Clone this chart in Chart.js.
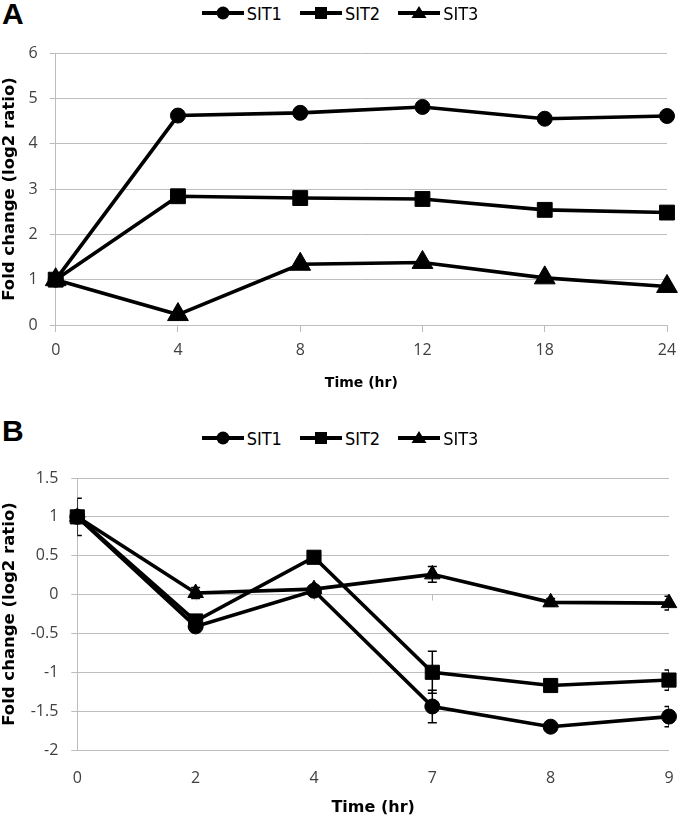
<!DOCTYPE html>
<html><head><meta charset="utf-8">
<script src="https://cdn.jsdelivr.net/npm/chart.js@4.4.1/dist/chart.umd.min.js"></script>
<style>
html,body{margin:0;padding:0;background:#fff}
body{width:680px;height:817px;position:relative;overflow:hidden}
.panel{position:absolute;left:0}
.lbl{position:absolute;left:2px;font:bold 30px 'Liberation Sans',Arial,sans-serif;line-height:30px;color:#000}
.legend{position:absolute;left:0;width:680px;display:flex;justify-content:center;align-items:center;height:20px;
  font:18px 'Liberation Sans Narrow','DejaVu Sans Condensed',sans-serif;color:#000}
.legend .item{display:flex;align-items:center;margin:0 9px}
.legend canvas{display:block;margin-right:3px}
</style></head>
<body>
<div class="lbl" style="top:-1px">A</div>
<div class="legend" id="legA" style="top:3px"></div>
<canvas id="chartA" class="panel" style="top:0" width="680" height="400"></canvas>
<div class="lbl" style="top:416px">B</div>
<div class="legend" id="legB" style="top:428px"></div>
<canvas id="chartB" class="panel" style="top:400px" width="680" height="417"></canvas>
<script>
// ---------- data ----------
const seriesNames = ['SIT1', 'SIT2', 'SIT3'];
const markerStyles = ['circle', 'rect', 'triangle'];

const timeA = ['0', '4', '8', '12', '18', '24'];
const sit1A = [1, 4.62, 4.68, 4.81, 4.55, 4.61];
const sit2A = [1, 2.84, 2.80, 2.78, 2.54, 2.48];
const sit3A = [1, 0.23, 1.34, 1.38, 1.04, 0.85];
const yTicksA = [0, 1, 2, 3, 4, 5, 6];

const timeB = ['0', '2', '4', '7', '8', '9'];
const sit1B = [1, -0.41, 0.05, -1.44, -1.70, -1.57];
const sit2B = [1, -0.34, 0.48, -1.00, -1.17, -1.10];
const sit3B = [1, 0.02, 0.07, 0.26, -0.10, -0.11];
const sit1ErrB = [0, 0.03, 0.06, 0.21, 0.03, 0.13];
const sit2ErrB = [0.24, 0.04, 0.03, 0.27, 0.03, 0.13];
const sit3ErrB = [0, 0.07, 0.04, 0.10, 0.05, 0.09];
const yTicksB = [-2, -1.5, -1, -0.5, 0, 0.5, 1, 1.5];

const yTitle = 'Fold change (log2 ratio)';
const xTitle = 'Time (hr)';

// ---------- legends (HTML) ----------
function drawIcon(c, style) {
  const ctx = c.getContext('2d');
  ctx.strokeStyle = '#000'; ctx.fillStyle = '#000'; ctx.lineWidth = 4;
  ctx.beginPath(); ctx.moveTo(0, 8); ctx.lineTo(42, 8); ctx.stroke();
  const x = 21, y = 8;
  ctx.beginPath();
  if (style === 'circle') { ctx.arc(x, y, 6.5, 0, Math.PI * 2); }
  else if (style === 'rect') { ctx.rect(x - 6, y - 6, 12, 12); }
  else { ctx.moveTo(x, y - 7); ctx.lineTo(x + 7.5, y + 5); ctx.lineTo(x - 7.5, y + 5); ctx.closePath(); }
  ctx.fill();
}
function buildLegend(id) {
  const el = document.getElementById(id);
  seriesNames.forEach((n, i) => {
    const it = document.createElement('div'); it.className = 'item';
    const c = document.createElement('canvas'); c.width = 42; c.height = 16;
    drawIcon(c, markerStyles[i]);
    const s = document.createElement('span'); s.textContent = n;
    it.appendChild(c); it.appendChild(s); el.appendChild(it);
  });
}
buildLegend('legA'); buildLegend('legB');

// ---------- chart helpers ----------
Chart.defaults.font.family = "'Open Sans', sans-serif";
Chart.defaults.font.size = 16;
Chart.defaults.color = '#404040';
const GRID = '#bdbdbd';

function ds(label, data, style, radius) {
  return {
    label, data, borderColor: '#000', backgroundColor: '#000', borderWidth: 3.6,
    pointStyle: style, pointRadius: radius, pointBorderWidth: 1, pointBackgroundColor: '#000',
    pointBorderColor: '#000', tension: 0, fill: false, clip: false
  };
}
function tickSetter(list) {
  return (scale) => { scale.ticks = list.map(v => ({ value: v })); };
}
function xFit(h) {
  return (s) => { s.height = h; s.paddingLeft = 0; s.paddingRight = 0; };
}

const errorBars = {
  id: 'errorBars',
  afterDatasetsDraw(chart, args, opts) {
    if (!opts || !opts.errors) return;
    const { ctx, chartArea: a, scales: { x, y } } = chart;
    ctx.save();
    ctx.beginPath(); ctx.rect(a.left, a.top - 20, a.right - a.left, a.bottom - a.top + 40); ctx.clip();
    ctx.strokeStyle = '#000'; ctx.lineWidth = 1.5;
    opts.errors.forEach((errs, di) => {
      const data = chart.data.datasets[di].data;
      errs.forEach((e, i) => {
        if (!e) return;
        const px = x.getPixelForValue(i);
        const yt = y.getPixelForValue(data[i] + e), yb = y.getPixelForValue(data[i] - e);
        ctx.beginPath();
        ctx.moveTo(px, yt); ctx.lineTo(px, yb);
        ctx.moveTo(px - 4.5, yt); ctx.lineTo(px + 4.5, yt);
        ctx.moveTo(px - 4.5, yb); ctx.lineTo(px + 4.5, yb);
        ctx.stroke();
      });
    });
    ctx.restore();
  }
};
const zeroTicks = {
  id: 'zeroTicks',
  beforeDatasetsDraw(chart, args, opts) {
    if (!opts || !opts.on) return;
    const { ctx, scales: { x, y } } = chart;
    const py = y.getPixelForValue(0);
    ctx.save(); ctx.strokeStyle = GRID; ctx.lineWidth = 1;
    x.ticks.forEach((t, i) => {
      const px = Math.round(x.getPixelForTick(i)) + 0.5;
      ctx.beginPath(); ctx.moveTo(px, py); ctx.lineTo(px, py + 6); ctx.stroke();
    });
    ctx.restore();
  }
};

// ---------- Chart A ----------
new Chart(document.getElementById('chartA'), {
  type: 'line',
  data: {
    labels: timeA,
    datasets: [
      ds(seriesNames[0], sit1A, 'circle', 7.5),
      ds(seriesNames[1], sit2A, 'rect', 10.5),
      ds(seriesNames[2], sit3A, 'triangle', 12)
    ]
  },
  plugins: [errorBars, zeroTicks],
  options: {
    responsive: false, animation: false, devicePixelRatio: 1,
    layout: { padding: { top: 53, right: 13, left: 0, bottom: 0 } },
    plugins: { legend: { display: false }, tooltip: { enabled: false } },
    scales: {
      x: {
        offset: false,
        afterFit: xFit(75),
        grid: { display: true, drawOnChartArea: false, drawTicks: true, tickLength: 7, color: GRID },
        border: { display: true, color: GRID },
        ticks: { padding: 9, maxRotation: 0 },
        title: { display: true, text: xTitle, color: '#000', padding: { top: 0, bottom: 8 },
          font: { family: "'DejaVu Sans', sans-serif", weight: 'bold', size: 14 } }
      },
      y: {
        min: 0, max: 6,
        afterBuildTicks: tickSetter(yTicksA),
        afterFit: (s) => { s.width = 55.7; },
        grid: { color: GRID, drawTicks: true, tickLength: 6 },
        border: { display: true, color: GRID },
        ticks: { padding: 12, callback: (v) => String(v) },
        title: { display: true, text: yTitle, color: '#000', padding: { top: 0, bottom: 0 },
          font: { family: "'DejaVu Sans', sans-serif", weight: 'bold', size: 16.5 } }
      }
    }
  }
});

// ---------- Chart B ----------
new Chart(document.getElementById('chartB'), {
  type: 'line',
  data: {
    labels: timeB,
    datasets: [
      ds(seriesNames[0], sit1B, 'circle', 7.5),
      ds(seriesNames[1], sit2B, 'rect', 10),
      ds(seriesNames[2], sit3B, 'triangle', 9)
    ]
  },
  plugins: [errorBars, zeroTicks],
  options: {
    responsive: false, animation: false, devicePixelRatio: 1,
    layout: { padding: { top: 78, right: 8.3, left: 0, bottom: 0 } },
    plugins: {
      legend: { display: false }, tooltip: { enabled: false },
      errorBars: { errors: [sit1ErrB, sit2ErrB, sit3ErrB] },
      zeroTicks: { on: true }
    },
    scales: {
      x: {
        offset: false,
        afterFit: xFit(67),
        grid: { display: false, drawTicks: false },
        border: { display: false },
        ticks: { padding: 19, maxRotation: 0 },
        title: { display: true, text: xTitle, color: '#000', padding: { top: 0, bottom: 0 },
          font: { family: "'DejaVu Sans', sans-serif", weight: 'bold', size: 16 } }
      },
      y: {
        min: -2, max: 1.5,
        afterBuildTicks: tickSetter(yTicksB),
        afterFit: (s) => { s.width = 77.3; },
        grid: { color: GRID, drawTicks: true, tickLength: 6 },
        border: { display: true, color: GRID },
        ticks: { padding: 13, callback: (v) => String(v) },
        title: { display: true, text: yTitle, color: '#000', padding: { top: 0, bottom: 0 },
          font: { family: "'DejaVu Sans', sans-serif", weight: 'bold', size: 16.5 } }
      }
    }
  }
});
</script>
</body></html>
